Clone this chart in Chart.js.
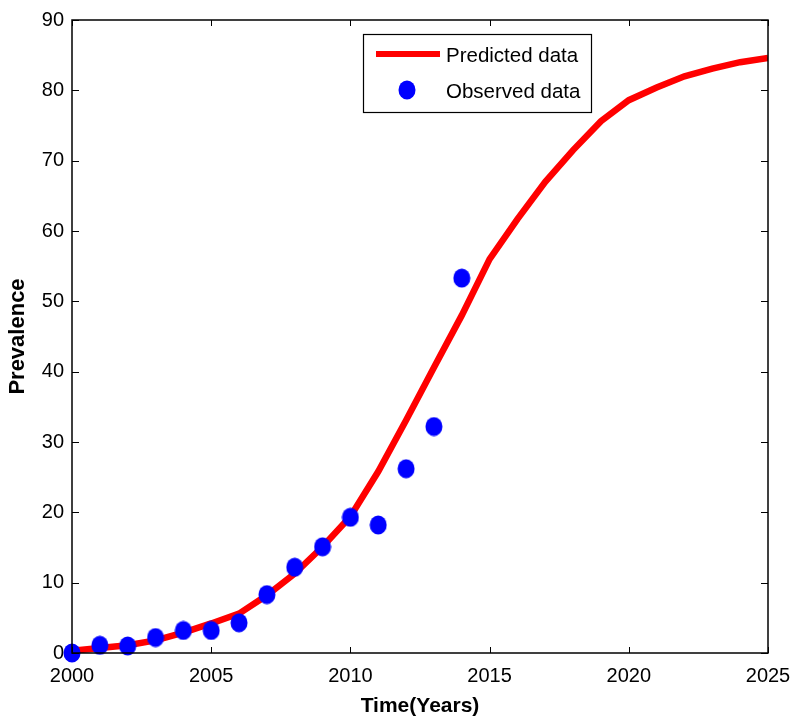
<!DOCTYPE html>
<html>
<head>
<meta charset="utf-8">
<script src="https://cdn.jsdelivr.net/npm/chart.js@4"></script>
<style>
  html, body { margin: 0; padding: 0; background: #fff; }
  #wrap { width: 792px; height: 717px; }
</style>
</head>
<body>
<div id="wrap"><canvas id="grafico" width="792" height="717"></canvas></div>
<script>
// Datos
const years = [2000, 2001, 2002, 2003, 2004, 2005, 2006, 2007, 2008, 2009, 2010, 2011, 2012,
               2013, 2014, 2015, 2016, 2017, 2018, 2019, 2020, 2021, 2022, 2023, 2024, 2025];
const predicted = [0.3, 0.7, 1.1, 1.8, 2.9, 4.2, 5.6, 8.2, 11.3, 15.1, 19.4, 25.8, 33.1,
                   40.6, 48.0, 56.0, 61.7, 67.0, 71.5, 75.6, 78.6, 80.4, 82.0, 83.1, 84.0, 84.6];
const obsYears = [2000, 2001, 2002, 2003, 2004, 2005, 2006, 2007, 2008, 2009, 2010, 2011, 2012, 2013, 2014];
const observed = [0, 1.1, 1.0, 2.2, 3.2, 3.2, 4.3, 8.3, 12.2, 15.1, 19.3, 18.2, 26.2, 32.2, 53.3];
const xTicks = [2000, 2005, 2010, 2015, 2020, 2025];
const yTicks = [0, 10, 20, 30, 40, 50, 60, 70, 80, 90];

const FONT = 'Arial, "Liberation Sans", sans-serif';

// Marcador elíptico (como en MATLAB)
const marker = document.createElement('canvas');
marker.width = 18; marker.height = 20;
(function () {
    const c = marker.getContext('2d');
    c.fillStyle = '#0000ff';
    c.beginPath();
    c.ellipse(9, 10, 8.5, 9.5, 0, 0, Math.PI * 2);
    c.fill();
})();

// Caja, marcas hacia dentro y leyenda
const cajaPlugin = {
    id: 'caja',
    afterDraw(chart) {
        const { ctx, chartArea: a, scales } = chart;
        ctx.save();
        ctx.strokeStyle = '#000';
        ctx.lineWidth = 1.5;
        ctx.strokeRect(a.left, a.top, a.right - a.left, a.bottom - a.top);
        ctx.lineWidth = 1;
        ctx.beginPath();
        xTicks.forEach((t) => {
            const px = Math.round(scales.x.getPixelForValue(t)) + 0.5;
            ctx.moveTo(px, a.bottom); ctx.lineTo(px, a.bottom - 6);
            ctx.moveTo(px, a.top); ctx.lineTo(px, a.top + 6);
        });
        yTicks.forEach((t) => {
            const py = Math.round(scales.y.getPixelForValue(t)) + 0.5;
            ctx.moveTo(a.left, py); ctx.lineTo(a.left + 7, py);
            ctx.moveTo(a.right, py); ctx.lineTo(a.right - 7, py);
        });
        ctx.stroke();

        // Leyenda
        const lx = 363, ly = 34, lw = 228, lh = 78;
        ctx.fillStyle = '#fff';
        ctx.fillRect(lx, ly, lw, lh);
        ctx.strokeStyle = '#000';
        ctx.lineWidth = 1.2;
        ctx.strokeRect(lx + 0.5, ly + 0.5, lw, lh);
        ctx.strokeStyle = '#ff0000';
        ctx.lineWidth = 6;
        ctx.beginPath();
        ctx.moveTo(376, 54); ctx.lineTo(440, 54);
        ctx.stroke();
        ctx.drawImage(marker, 398, 80);
        ctx.fillStyle = '#000';
        ctx.font = '20.5px ' + FONT;
        ctx.textBaseline = 'middle';
        ctx.fillText('Predicted data', 446, 56);
        ctx.fillText('Observed data', 446, 92);
        ctx.restore();
    },
};

new Chart(document.getElementById('grafico'), {
    type: 'scatter',
    data: {
        datasets: [
            {
                label: 'Predicted data',
                data: years.map((y, i) => ({ x: y, y: predicted[i] })),
                showLine: true,
                borderColor: '#ff0000',
                borderWidth: 6.5,
                pointRadius: 0,
                tension: 0,
                order: 2,
            },
            {
                label: 'Observed data',
                data: obsYears.map((y, i) => ({ x: y, y: observed[i] })),
                pointStyle: marker,
                pointRadius: 9,
                backgroundColor: '#0000ff',
                borderWidth: 0,
                clip: false,
                order: 1,
            },
        ],
    },
    options: {
        responsive: false,
        animation: false,
        layout: { padding: { top: 20, right: 24, left: 0, bottom: 0 } },
        plugins: { legend: { display: false }, tooltip: { enabled: false } },
        scales: {
            x: {
                type: 'linear',
                min: 2000,
                max: 2025,
                afterBuildTicks: (s) => { s.ticks = xTicks.map((v) => ({ value: v })); },
                afterFit: (s) => { s.height = 64; s.paddingLeft = 0; s.paddingRight = 0; },
                grid: { display: false, drawTicks: false },
                border: { display: false },
                ticks: {
                    color: '#000',
                    font: { family: FONT, size: 20 },
                    padding: 11,
                    maxRotation: 0,
                    callback: (v) => String(v),
                },
                title: {
                    display: true,
                    text: 'Time(Years)',
                    color: '#000',
                    font: { family: FONT, size: 21, weight: 'bold' },
                    padding: { top: 0, bottom: -2 },
                },
            },
            y: {
                min: 0,
                max: 90,
                afterBuildTicks: (s) => { s.ticks = yTicks.map((v) => ({ value: v })); },
                afterFit: (s) => { s.width = 72; s.paddingTop = 0; s.paddingBottom = 0; },
                grid: { display: false, drawTicks: false },
                border: { display: false },
                ticks: {
                    color: '#000',
                    font: { family: FONT, size: 20 },
                    padding: 8,
                },
                title: {
                    display: true,
                    text: 'Prevalence',
                    color: '#000',
                    font: { family: FONT, size: 22, weight: 'bold' },
                    padding: { top: 5, bottom: 0 },
                },
            },
        },
    },
    plugins: [cajaPlugin],
});
</script>
</body>
</html>
